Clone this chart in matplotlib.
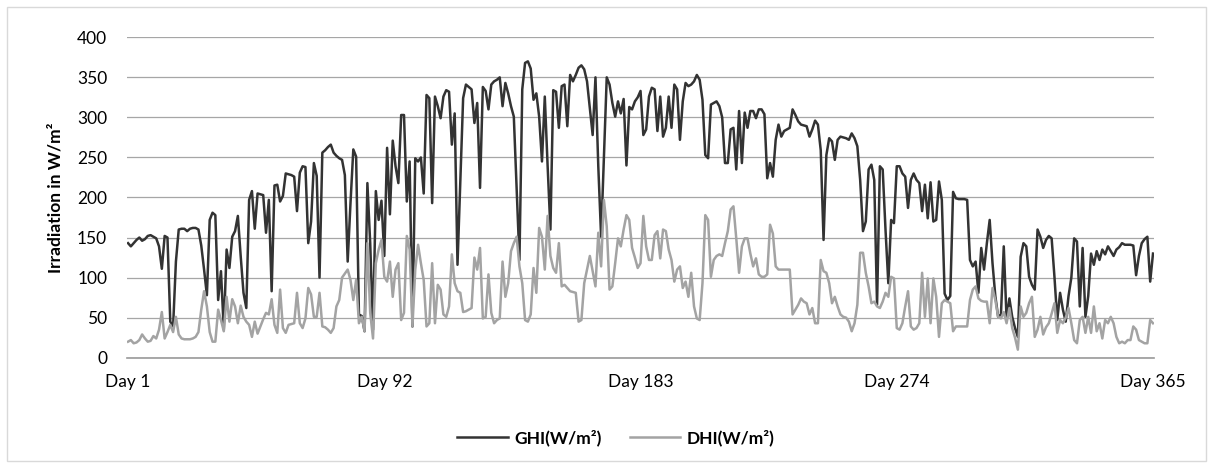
import numpy as np
import matplotlib
matplotlib.use("Agg")
import matplotlib.pyplot as plt
from matplotlib.patches import Rectangle

# daily mean irradiation, W/m² (day 1 .. day 365)
ghi = [
    143, 139, 143, 147, 150, 146, 148, 152, 153, 151,
    149, 139, 111, 152, 150, 45, 39, 120, 160, 161,
    161, 158, 161, 162, 162, 160, 140, 110, 78, 172,
    181, 178, 72, 108, 35, 135, 112, 151, 158, 177,
    127, 81, 62, 197, 208, 161, 205, 204, 203, 156,
    197, 83, 215, 216, 195, 202, 230, 229, 228, 226,
    183, 231, 239, 238, 143, 170, 243, 227, 100, 256,
    259, 263, 266, 256, 252, 249, 247, 228, 120, 193,
    260, 251, 54, 52, 33, 218, 143, 35, 208, 172,
    196, 127, 262, 179, 271, 239, 218, 303, 303, 195,
    245, 39, 249, 245, 250, 205, 328, 324, 193, 326,
    314, 299, 326, 334, 332, 266, 305, 116, 220, 324,
    341, 338, 335, 293, 318, 212, 338, 333, 310, 341,
    345, 347, 350, 314, 343, 330, 314, 301, 210, 122,
    335, 368, 370, 361, 322, 330, 301, 245, 326, 240,
    160, 334, 332, 287, 339, 341, 289, 353, 345, 353,
    362, 365, 360, 345, 312, 278, 350, 239, 151, 250,
    350, 341, 318, 301, 320, 305, 323, 240, 313, 310,
    320, 325, 333, 278, 285, 326, 337, 335, 283, 326,
    276, 287, 326, 287, 341, 335, 272, 320, 343, 339,
    341, 345, 353, 347, 322, 253, 249, 316, 318, 320,
    314, 300, 243, 243, 285, 287, 235, 308, 243, 306,
    287, 308, 308, 299, 310, 310, 304, 224, 243, 226,
    272, 291, 276, 283, 285, 287, 310, 303, 295, 291,
    290, 289, 276, 285, 296, 291, 259, 147, 253, 274,
    270, 247, 272, 276, 275, 274, 272, 280, 274, 264,
    222, 158, 170, 235, 241, 222, 66, 239, 235, 160,
    93, 172, 168, 239, 239, 230, 226, 187, 222, 230,
    222, 218, 183, 216, 174, 219, 170, 172, 220, 197,
    80, 72, 77, 207, 199, 198, 198, 198, 197, 122,
    114, 120, 81, 137, 110, 143, 172, 118, 77, 51,
    54, 139, 48, 74, 51, 37, 26, 126, 143, 139,
    101, 91, 85, 160, 151, 137, 147, 152, 149, 101,
    47, 81, 60, 45, 77, 100, 149, 145, 64, 137,
    51, 77, 130, 116, 133, 122, 135, 129, 139, 133,
    127, 135, 138, 143, 141, 141, 141, 140, 103, 127,
    143, 148, 151, 95, 130,
]

dhi = [
    20, 22, 18, 19, 22, 29, 24, 20, 21, 27,
    24, 35, 57, 24, 32, 41, 32, 51, 29, 24,
    23, 23, 23, 24, 26, 32, 60, 83, 64, 32,
    20, 20, 60, 47, 33, 76, 45, 73, 64, 43,
    65, 51, 45, 41, 26, 45, 30, 39, 48, 56,
    54, 73, 41, 31, 85, 37, 31, 41, 42, 43,
    81, 43, 37, 49, 87, 79, 51, 51, 81, 39,
    38, 35, 31, 37, 64, 72, 100, 105, 110, 97,
    72, 97, 43, 51, 33, 143, 56, 24, 118, 135,
    147, 101, 95, 120, 76, 110, 118, 47, 56, 152,
    135, 39, 110, 141, 118, 97, 39, 43, 118, 43,
    91, 85, 54, 51, 64, 129, 93, 83, 81, 57,
    58, 60, 62, 125, 110, 137, 49, 51, 104, 56,
    43, 47, 49, 120, 76, 93, 133, 143, 151, 114,
    93, 47, 45, 54, 112, 81, 162, 151, 110, 177,
    127, 112, 106, 143, 89, 91, 87, 83, 82, 81,
    45, 47, 93, 110, 127, 108, 89, 156, 114, 197,
    164, 85, 89, 118, 149, 139, 160, 178, 172, 137,
    125, 112, 118, 177, 139, 122, 122, 153, 158, 124,
    160, 158, 135, 122, 95, 110, 114, 87, 95, 76,
    106, 64, 49, 47, 93, 178, 172, 101, 122, 127,
    129, 127, 143, 158, 185, 189, 149, 106, 139, 149,
    149, 130, 114, 124, 104, 101, 101, 104, 166, 155,
    114, 110, 110, 110, 110, 110, 54, 60, 66, 74,
    70, 68, 54, 62, 43, 43, 122, 108, 106, 93,
    68, 76, 64, 54, 51, 50, 45, 33, 43, 66,
    131, 131, 106, 89, 68, 70, 64, 62, 70, 81,
    76, 101, 99, 37, 35, 43, 64, 83, 39, 35,
    37, 43, 106, 51, 99, 43, 99, 76, 26, 68,
    72, 70, 68, 33, 39, 39, 39, 39, 39, 72,
    85, 89, 74, 71, 70, 70, 43, 87, 72, 51,
    49, 57, 43, 62, 37, 25, 10, 64, 51, 56,
    68, 76, 26, 35, 51, 29, 38, 43, 55, 68,
    31, 47, 43, 50, 62, 43, 22, 18, 47, 51,
    31, 51, 31, 64, 33, 43, 24, 47, 43, 51,
    43, 26, 18, 20, 18, 22, 22, 39, 35, 22,
    20, 18, 18, 47, 43,
]

days = np.arange(1, len(ghi) + 1)
tick_days = [1, 92, 183, 274, 365]
tick_labels = ["Day 1", "Day 92", "Day 183", "Day 274", "Day 365"]

plt.rcParams['font.family'] = ['Lato', 'DejaVu Sans']

fig = plt.figure(figsize=(12.13, 4.68), dpi=100)
ax = fig.add_axes([0.1044, 0.2357, 0.8473, 0.6846])

ax.plot(days, ghi, color='#333333', lw=1.8, label='GHI(W/m²)')
ax.plot(days, dhi, color='#a3a3a3', lw=1.8, label='DHI(W/m²)')

ax.set_xlim(0.5, 365.5)
ax.set_ylim(0, 400)
ax.set_yticks(range(0, 401, 50))
ax.set_xticks(tick_days)
ax.set_xticklabels(tick_labels)
ax.tick_params(axis='both', length=0, labelsize=12.5, colors='black')
ax.tick_params(axis='y', pad=14)
ax.tick_params(axis='x', pad=12)

ax.yaxis.grid(True, color='#a6a6a6', lw=0.9)
ax.set_axisbelow(True)
for s in ['left', 'right', 'top']:
    ax.spines[s].set_visible(False)
ax.spines['bottom'].set_color('#999999')
ax.spines['bottom'].set_linewidth(1.2)

ax.set_ylabel('Irradiation in W/m²', fontsize=12.5, fontweight='bold', labelpad=10)

fig.legend(loc='center', bbox_to_anchor=(616 / 1213, 1 - 438 / 468), ncol=2,
           frameon=False, prop={'weight': 'bold', 'size': 12.5},
           handlelength=2.9, handletextpad=0.4, columnspacing=1.6)

# light frame around the whole chart
fig.patches.append(Rectangle((7 / 1213, 7 / 468), 1 - 14 / 1213, 1 - 14 / 468,
                             transform=fig.transFigure, fill=False,
                             edgecolor='#d9d9d9', lw=1))

fig.savefig('out.png', dpi=100)
